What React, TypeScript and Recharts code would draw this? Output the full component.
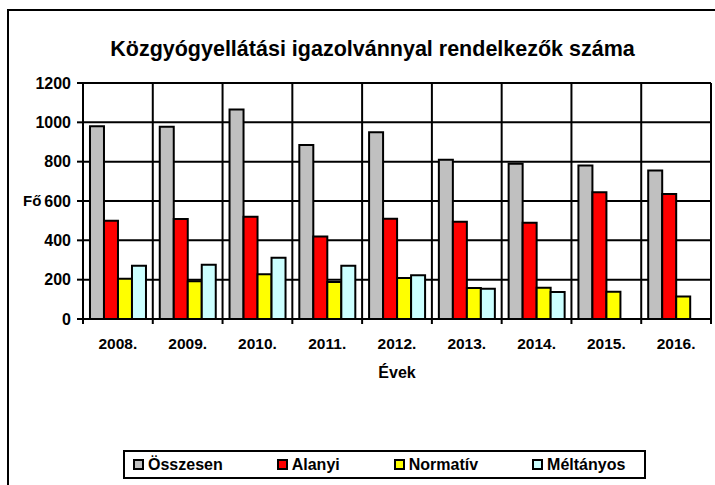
import { BarChart, Bar, XAxis, YAxis, CartesianGrid } from "recharts";

const years = ["2008.", "2009.", "2010.", "2011.", "2012.", "2013.", "2014.", "2015.", "2016."];
const osszesen = [980, 978, 1065, 885, 950, 810, 790, 780, 755];
const alanyi = [500, 508, 520, 420, 510, 495, 490, 645, 635];
const normativ = [205, 192, 227, 188, 208, 158, 159, 139, 115];
const meltanyos: (number | null)[] = [271, 276, 312, 271, 222, 154, 137, null, null];
const yTicks = [0, 200, 400, 600, 800, 1000, 1200];

const series = [
  { key: "osszesen", name: "Összesen", color: "#C0C0C0" },
  { key: "alanyi", name: "Alanyi", color: "#FF0000" },
  { key: "normativ", name: "Normatív", color: "#FFFF00" },
  { key: "meltanyos", name: "Méltányos", color: "#CCFFFF" },
];

const chartData = years.map((year, i) => ({
  year,
  osszesen: osszesen[i],
  alanyi: alanyi[i],
  normativ: normativ[i],
  meltanyos: meltanyos[i],
}));

const W = 715;
const H = 485;
const MARGIN = { top: 83, right: 4, bottom: 106, left: 0 };
const Y_AXIS_W = 83;
const X_AXIS_H = 60;
const PLOT_W = W - MARGIN.left - MARGIN.right - Y_AXIS_W;
const BAND = PLOT_W / years.length;
const TICK_SIZE = 5;
const TICK_MARGIN = 14;
const FONT = '"Liberation Sans", Arial, sans-serif';

// category labels sit in the middle, the small tick marks sit on the band edges
function YearTick(props: any) {
  const { x, y, payload, index } = props;
  const lineTop = y - TICK_SIZE - TICK_MARGIN;
  return (
    <g>
      <line x1={x - BAND / 2} x2={x - BAND / 2} y1={lineTop} y2={lineTop + TICK_SIZE} stroke="#000" strokeWidth={2} />
      {index === years.length - 1 && (
        <line x1={x + BAND / 2} x2={x + BAND / 2} y1={lineTop} y2={lineTop + TICK_SIZE} stroke="#000" strokeWidth={2} />
      )}
      <text x={x} y={y} dy="0.71em" textAnchor="middle" fontSize={15.5} fontWeight="bold" fontFamily={FONT} fill="#000">
        {payload.value}
      </text>
    </g>
  );
}

export default function App() {
  return (
    <div style={{ position: "absolute", left: 0, top: 0, width: W, height: H, overflow: "hidden", background: "#fff", fontFamily: FONT }}>
      <div
        style={{
          position: "absolute",
          left: 7,
          top: 9,
          width: 800,
          height: 600,
          borderLeft: "2px solid #000",
          borderTop: "2px solid #000",
        }}
      />
      <div
        style={{
          position: "absolute",
          left: 0,
          top: 39,
          width: 745,
          textAlign: "center",
          fontSize: 21.5,
          lineHeight: "21px",
          fontWeight: "bold",
          color: "#000",
        }}
      >
        Közgyógyellátási igazolvánnyal rendelkezők száma
      </div>
      <div style={{ position: "absolute", left: 0, top: 0 }}>
        <BarChart width={W} height={H} data={chartData} margin={MARGIN} barCategoryGap="10%" barGap={0}>
          <CartesianGrid
            stroke="#000"
            strokeWidth={2}
            verticalCoordinatesGenerator={({ offset }: any) =>
              years.map((_, i) => offset.left + i * (offset.width / years.length)).concat(offset.left + offset.width)
            }
          />
          <XAxis
            dataKey="year"
            height={X_AXIS_H}
            axisLine={{ stroke: "#000", strokeWidth: 2 }}
            tickLine={false}
            tickSize={TICK_SIZE}
            tickMargin={TICK_MARGIN}
            tick={<YearTick />}
            interval={0}
            label={{ value: "Évek", position: "insideBottom", offset: 1, fontSize: 16, fontWeight: "bold", fill: "#000", fontFamily: FONT }}
          />
          <YAxis
            width={Y_AXIS_W}
            domain={[0, 1200]}
            ticks={yTicks}
            interval={0}
            axisLine={{ stroke: "#000", strokeWidth: 2 }}
            tickLine={{ stroke: "#000", strokeWidth: 2 }}
            tickSize={6}
            tickMargin={6}
            tick={{ fontSize: 16, fontWeight: "bold", fill: "#000", fontFamily: FONT }}
            label={{ value: "Fő", position: "insideLeft", offset: 23, fontSize: 15, fontWeight: "bold", fill: "#000", fontFamily: FONT }}
          />
          {series.map((s) => (
            <Bar key={s.key} dataKey={s.key} name={s.name} fill={s.color} stroke="#000" strokeWidth={2} isAnimationActive={false} />
          ))}
        </BarChart>
      </div>
      <div
        style={{
          position: "absolute",
          left: 123,
          top: 450,
          width: 523,
          height: 29,
          boxSizing: "border-box",
          border: "2px solid #000",
          display: "flex",
          alignItems: "center",
          paddingLeft: 8,
          gap: 54,
          fontSize: 16,
          fontWeight: "bold",
          color: "#000",
        }}
      >
        {series.map((s) => (
          <div key={s.key} style={{ display: "flex", alignItems: "center", gap: 4 }}>
            <span style={{ display: "inline-block", width: 11, height: 11, boxSizing: "border-box", border: "2px solid #000", background: s.color }} />
            <span>{s.name}</span>
          </div>
        ))}
      </div>
    </div>
  );
}
